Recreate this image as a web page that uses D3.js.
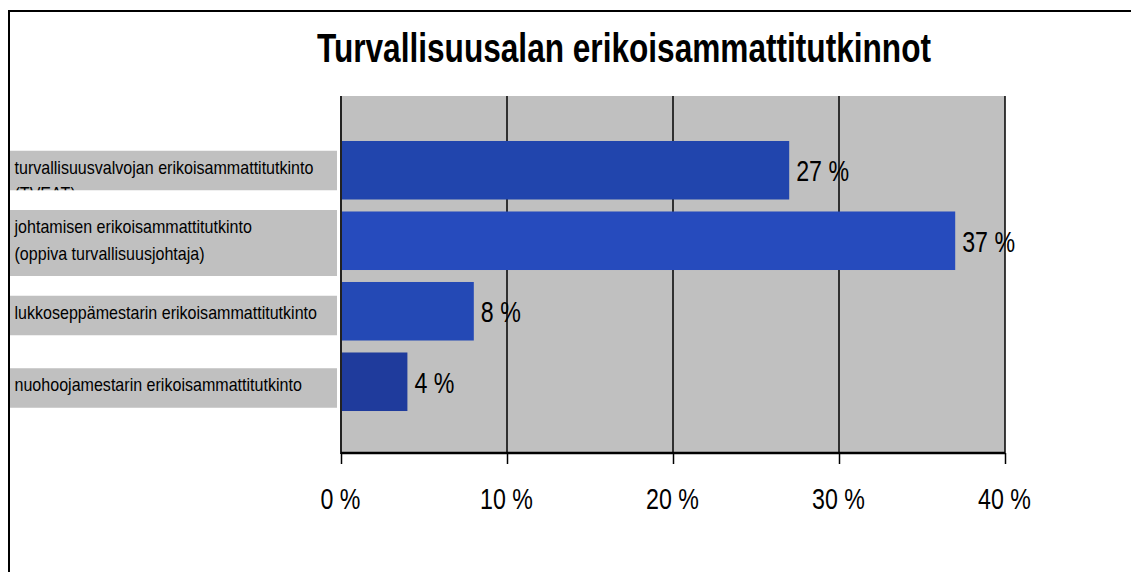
<!DOCTYPE html>
<html>
<head>
<meta charset="utf-8">
<script src="https://cdn.jsdelivr.net/npm/d3@7"></script>
<style>
  html, body { margin: 0; padding: 0; background: #fff; }
  svg { display: block; }
  text { font-family: "Liberation Sans", Arial, sans-serif; fill: #000; }
</style>
</head>
<body>
<svg id="chart" width="1131" height="572"></svg>
<script>
// ---- data ----
const title = "Turvallisuusalan erikoisammattitutkinnot";
const categories = [
  "turvallisuusvalvojan erikoisammattitutkinto",
  "johtamisen erikoisammattitutkinto",
  "lukkoseppämestarin erikoisammattitutkinto",
  "nuohoojamestarin erikoisammattitutkinto"
];
const labelLines = [
  ["turvallisuusvalvojan erikoisammattitutkinto", "(TVEAT)"],
  ["johtamisen erikoisammattitutkinto", "(oppiva turvallisuusjohtaja)"],
  ["lukkoseppämestarin erikoisammattitutkinto"],
  ["nuohoojamestarin erikoisammattitutkinto"]
];
const labelLinesShown = [1, 2, 1, 1];
const values = [27, 37, 8, 4];
const tickValues = [0, 10, 20, 30, 40];
const tickLabels = ["0 %", "10 %", "20 %", "30 %", "40 %"];

// ---- styles ----
const barColors = ["#2145ad", "#264bbd", "#2449b5", "#1f3b9c"];

const svg = d3.select("#chart");

function narrow(factor) {
  return sel => sel.each(function () {
    const w = this.getComputedTextLength();
    d3.select(this).attr("textLength", w * factor).attr("lengthAdjust", "spacingAndGlyphs");
  });
}

// frame
svg.append("line").attr("x1", 9).attr("x2", 1131).attr("y1", 11).attr("y2", 11)
  .attr("stroke", "#000").attr("stroke-width", 2);
svg.append("line").attr("x1", 9).attr("x2", 9).attr("y1", 10).attr("y2", 572)
  .attr("stroke", "#000").attr("stroke-width", 2);

// scales
const plotTop = 96, plotBottom = 453;
const x = d3.scaleLinear().domain([0, 40]).range([341, 1005]);
const y = d3.scaleBand().domain(categories).range([135, 417]).paddingInner(0.17).paddingOuter(0.085);
const yLabel = d3.scalePoint().domain(categories).range([170.5, 388]);

// plot area
svg.append("rect").attr("x", x(0)).attr("y", plotTop)
  .attr("width", x(40) - x(0)).attr("height", plotBottom - plotTop)
  .attr("fill", "#c0c0c0");

// gridlines
svg.append("g").selectAll("line").data(tickValues.filter(d => d > 0)).join("line")
  .attr("x1", d => x(d)).attr("x2", d => x(d))
  .attr("y1", plotTop).attr("y2", plotBottom)
  .attr("stroke", "#000").attr("stroke-width", 1.5);

// bars
svg.append("g").selectAll("rect").data(values).join("rect")
  .attr("x", x(0))
  .attr("y", (d, i) => y(categories[i]))
  .attr("width", d => x(d) - x(0))
  .attr("height", y.bandwidth())
  .attr("fill", (d, i) => barColors[i]);

// y axis line
svg.append("line").attr("x1", x(0)).attr("x2", x(0)).attr("y1", plotTop).attr("y2", plotBottom + 1)
  .attr("stroke", "#222").attr("stroke-width", 2);

// x axis
const xAxis = d3.axisBottom(x).tickValues(tickValues).tickSize(11)
  .tickFormat((d, i) => tickLabels[i]);
const gx = svg.append("g").attr("transform", `translate(0,${plotBottom})`).call(xAxis);
gx.select(".domain").attr("stroke", "#000").attr("stroke-width", 2.5)
  .attr("d", `M${x(0)},0H${x(40)}`);
gx.selectAll(".tick line").attr("stroke", "#000").attr("stroke-width", 1.5);
gx.selectAll(".tick text")
  .attr("x", -1)
  .attr("y", 56).attr("dy", 0)
  .attr("font-size", 29).attr("font-family", "Liberation Sans, Arial, sans-serif")
  .attr("fill", "#000")
  .call(narrow(0.8));

// value labels
svg.append("g").selectAll("text").data(values).join("text")
  .attr("x", d => x(d) + 7)
  .attr("y", (d, i) => y(categories[i]) + y.bandwidth() / 2 + 11)
  .attr("font-size", 29)
  .text(d => d + " %")
  .call(narrow(0.8));

// category label boxes
const lineH = 26.5;
const defs = svg.append("defs");
const lab = svg.append("g").selectAll("g").data(categories).join("g");
lab.each(function (c, i) {
  const g = d3.select(this);
  const h = 13 + lineH * labelLinesShown[i];
  const top = yLabel(c) - h / 2;
  defs.append("clipPath").attr("id", "clip" + i)
    .append("rect").attr("x", 10).attr("y", top).attr("width", 327).attr("height", h);
  g.append("rect").attr("x", 10).attr("y", top).attr("width", 327).attr("height", h)
    .attr("fill", "#c0c0c0");
  g.append("g").attr("clip-path", `url(#clip${i})`)
    .selectAll("text").data(labelLines[i]).join("text")
    .attr("x", 14.5)
    .attr("y", (d, j) => top + 23 + j * lineH)
    .attr("font-size", 19)
    .attr("fill", "#1a1a1a")
    .text(d => d)
    .call(narrow(0.845));
});

// title
svg.append("text")
  .attr("x", 624).attr("y", 62)
  .attr("text-anchor", "middle")
  .attr("font-size", 40).attr("font-weight", "bold")
  .text(title)
  .call(narrow(0.79));
</script>
</body>
</html>
